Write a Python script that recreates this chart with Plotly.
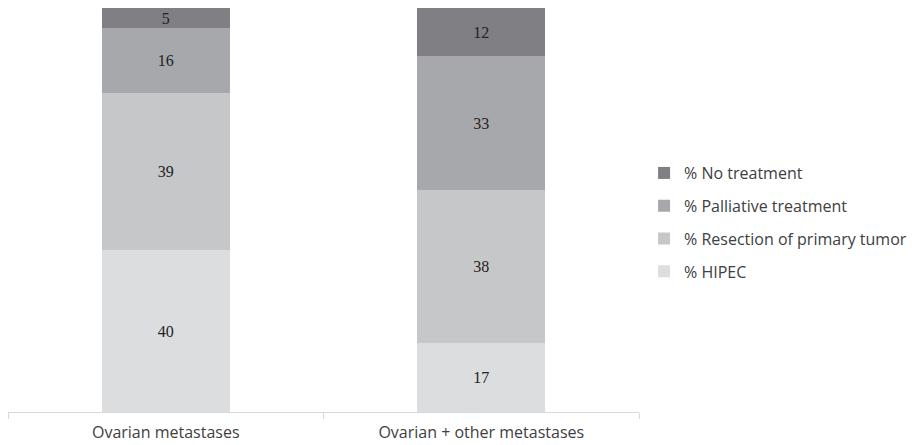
import plotly.graph_objects as go

categories = ["Ovarian metastases", "Ovarian + other metastases"]
series_names = ["% HIPEC", "% Resection of primary tumor", "% Palliative treatment", "% No treatment"]
hipec = [40, 17]
resection = [39, 38]
palliative = [16, 33]
no_treatment = [5, 12]
colors = ["#dcdddf", "#c6c7c9", "#a7a8ac", "#808084"]
legend_ranks = [4, 3, 2, 1]

values = [hipec, resection, palliative, no_treatment]

fig = go.Figure()
for name, vals, col, rank in zip(series_names, values, colors, legend_ranks):
    fig.add_trace(go.Bar(
        x=categories, y=vals, name=name, legendgroup=name, legendrank=rank,
        marker=dict(color=col, line=dict(width=0)),
        text=vals, texttemplate="%{text}", textposition="inside",
        insidetextanchor="middle", constraintext="none", textangle=0,
        textfont=dict(family="Liberation Serif", size=16, color="#222222"),
    ))

fig.update_layout(
    barmode="stack",
    bargap=0.594,
    width=921, height=445,
    margin=dict(l=8, r=282, t=8, b=33, autoexpand=False),
    paper_bgcolor="white", plot_bgcolor="white",
    font=dict(family="Open Sans", size=16, color="#404040"),
    showlegend=True,
    legend=dict(
        x=1.008, xanchor="left", y=0.469, yanchor="middle",
        traceorder="grouped", tracegroupgap=9,
        font=dict(family="Open Sans", size=16, color="#404040"),
        bgcolor="rgba(0,0,0,0)", itemclick=False,
    ),
    xaxis=dict(
        showline=True, linecolor="#d9d9d9", linewidth=1,
        ticks="outside", tickson="boundaries", ticklen=6, tickcolor="#d9d9d9",
        ticklabelstandoff=6, automargin=False,
        showgrid=False, tickfont=dict(family="Open Sans", size=16, color="#404040"),
    ),
    yaxis=dict(range=[0, 100], visible=False, showgrid=False, fixedrange=True, automargin=False),
    uniformtext=dict(mode=False),
)

fig.write_html("out.html")
